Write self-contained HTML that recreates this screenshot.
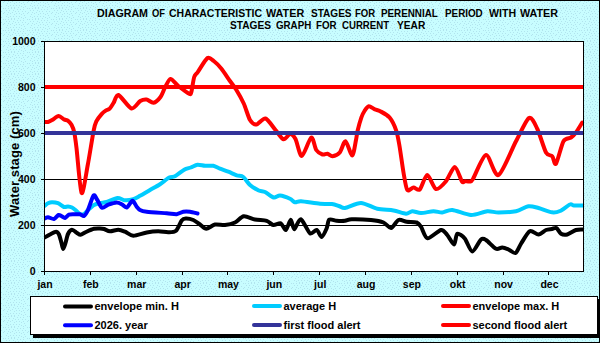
<!DOCTYPE html>
<html><head><meta charset="utf-8"><style>
html,body{margin:0;padding:0;}
body{width:600px;height:343px;overflow:hidden;position:relative;background:#c6fafd;font-family:"Liberation Sans",sans-serif;}
#frame{position:absolute;left:0;top:0;width:598px;height:341px;border:1px solid #000;background:#c6fafd;}
svg{position:absolute;left:0;top:0;}
.tw{position:absolute;font-weight:bold;font-size:10.4px;line-height:12px;white-space:nowrap;color:#000;transform-origin:0 0;}
.m{position:absolute;top:278px;width:40px;text-align:center;font-weight:bold;font-size:10.5px;line-height:13px;color:#000;}
.yl{position:absolute;left:0;width:35.5px;text-align:right;font-weight:bold;font-size:10.5px;line-height:13px;color:#000;}
#ytitle{position:absolute;left:8px;top:217px;letter-spacing:0.1px;transform-origin:0 0;transform:rotate(-90deg);font-weight:bold;font-size:13px;line-height:13px;white-space:nowrap;}
.lg{position:absolute;font-weight:bold;font-size:11px;line-height:13px;white-space:nowrap;}
</style></head><body>
<div id="frame"></div>
<svg width="600" height="343" viewBox="0 0 600 343">
<defs><pattern id="dots" x="100" y="30" width="24" height="11" patternUnits="userSpaceOnUse"><rect width="24" height="11" fill="#c8fdff"/><g fill="#b2e4ee"><rect x="1" y="0" width="1" height="1"/><rect x="4" y="0" width="1" height="1"/><rect x="7" y="0" width="1" height="1"/><rect x="10" y="0" width="1" height="1"/><rect x="23" y="0" width="1" height="1"/><rect x="13" y="1" width="1" height="1"/><rect x="16" y="1" width="1" height="1"/><rect x="19" y="1" width="1" height="1"/><rect x="2" y="2" width="1" height="1"/><rect x="5" y="2" width="1" height="1"/><rect x="9" y="2" width="1" height="1"/><rect x="11" y="3" width="1" height="1"/><rect x="14" y="3" width="1" height="1"/><rect x="18" y="3" width="1" height="1"/><rect x="21" y="3" width="1" height="1"/><rect x="0" y="4" width="1" height="1"/><rect x="4" y="4" width="1" height="1"/><rect x="8" y="4" width="1" height="1"/><rect x="6" y="5" width="1" height="1"/><rect x="12" y="5" width="1" height="1"/><rect x="15" y="5" width="1" height="1"/><rect x="19" y="5" width="1" height="1"/><rect x="23" y="5" width="1" height="1"/><rect x="3" y="6" width="1" height="1"/><rect x="10" y="6" width="1" height="1"/><rect x="17" y="6" width="1" height="1"/><rect x="20" y="7" width="1" height="1"/><rect x="2" y="8" width="1" height="1"/><rect x="6" y="8" width="1" height="1"/><rect x="9" y="8" width="1" height="1"/><rect x="12" y="8" width="1" height="1"/><rect x="15" y="8" width="1" height="1"/><rect x="4" y="9" width="1" height="1"/><rect x="17" y="9" width="1" height="1"/><rect x="21" y="9" width="1" height="1"/><rect x="7" y="10" width="1" height="1"/><rect x="10" y="10" width="1" height="1"/><rect x="14" y="10" width="1" height="1"/><rect x="19" y="10" width="1" height="1"/></g></pattern></defs>
<rect x="1" y="1" width="598" height="341" fill="url(#dots)"/>
<rect x="44.5" y="41.5" width="539" height="230" fill="#fff" stroke="#000" stroke-width="1"/>
<rect x="45" y="87" width="538" height="1" fill="#000"/><rect x="45" y="133" width="538" height="1" fill="#000"/><rect x="45" y="179" width="538" height="1" fill="#000"/><rect x="45" y="225" width="538" height="1" fill="#000"/>
<rect x="41" y="41" width="3" height="1" fill="#000"/><rect x="41" y="87" width="3" height="1" fill="#000"/><rect x="41" y="133" width="3" height="1" fill="#000"/><rect x="41" y="179" width="3" height="1" fill="#000"/><rect x="41" y="225" width="3" height="1" fill="#000"/><rect x="41" y="271" width="3" height="1" fill="#000"/>
<rect x="44" y="272" width="1" height="3" fill="#000"/><rect x="90" y="272" width="1" height="3" fill="#000"/><rect x="136" y="272" width="1" height="3" fill="#000"/><rect x="182" y="272" width="1" height="3" fill="#000"/><rect x="227" y="272" width="1" height="3" fill="#000"/><rect x="273" y="272" width="1" height="3" fill="#000"/><rect x="319" y="272" width="1" height="3" fill="#000"/><rect x="365" y="272" width="1" height="3" fill="#000"/><rect x="411" y="272" width="1" height="3" fill="#000"/><rect x="457" y="272" width="1" height="3" fill="#000"/><rect x="503" y="272" width="1" height="3" fill="#000"/><rect x="548" y="272" width="1" height="3" fill="#000"/>
<clipPath id="pc"><rect x="45" y="42" width="538" height="229"/></clipPath>
<g clip-path="url(#pc)">
<path d="M44.50 237.50 C45.23 237.10 48.47 235.26 50.00 234.50 C51.53 233.74 54.80 231.80 56.00 231.80 C57.20 231.80 58.27 233.01 59.00 234.50 C59.73 235.99 60.94 241.07 61.50 243.00 C62.06 244.93 62.67 249.00 63.20 249.00 C63.73 249.00 64.86 245.00 65.50 243.00 C66.14 241.00 67.13 235.76 68.00 234.00 C68.87 232.24 70.80 229.93 72.00 229.80 C73.20 229.67 75.87 232.33 77.00 233.00 C78.13 233.67 79.30 234.93 80.50 234.80 C81.70 234.67 84.20 232.80 86.00 232.00 C87.80 231.20 92.13 229.27 94.00 228.80 C95.87 228.33 98.67 228.47 100.00 228.50 C101.33 228.53 102.67 228.63 104.00 229.00 C105.33 229.37 108.09 231.21 110.00 231.30 C111.91 231.39 116.30 229.65 118.30 229.70 C120.30 229.75 123.00 230.89 125.00 231.70 C127.00 232.51 130.41 235.69 133.30 235.80 C136.19 235.91 143.37 233.10 146.70 232.50 C150.03 231.90 155.42 231.33 158.30 231.30 C161.18 231.27 165.94 232.37 168.30 232.30 C170.66 232.23 174.21 232.37 176.00 230.80 C177.79 229.23 180.39 222.14 181.70 220.50 C183.01 218.86 184.25 218.57 185.80 218.50 C187.35 218.43 191.41 219.20 193.30 220.00 C195.19 220.80 198.27 223.33 200.00 224.50 C201.73 225.67 204.25 228.75 206.25 228.75 C208.25 228.75 212.50 225.00 215.00 224.50 C217.50 224.00 222.33 225.27 225.00 225.00 C227.67 224.73 232.50 223.67 235.00 222.50 C237.50 221.33 241.08 216.65 243.75 216.25 C246.42 215.85 251.94 218.89 255.00 219.50 C258.06 220.11 264.26 220.07 266.70 220.80 C269.14 221.53 271.42 224.67 273.30 225.00 C275.18 225.33 279.13 222.63 280.80 223.30 C282.47 223.97 284.47 230.48 285.80 230.00 C287.13 229.52 289.68 219.81 290.80 219.70 C291.92 219.59 292.87 229.27 294.20 229.20 C295.53 229.13 298.69 218.65 300.80 219.20 C302.91 219.75 307.88 231.86 310.00 233.30 C312.12 234.74 315.14 229.51 316.70 230.00 C318.26 230.49 320.37 237.23 321.70 237.00 C323.03 236.77 325.70 230.61 326.70 228.30 C327.70 225.99 327.87 220.70 329.20 219.70 C330.53 218.70 334.59 220.65 336.70 220.80 C338.81 220.95 343.00 221.01 345.00 220.80 C347.00 220.59 348.23 219.31 351.70 219.20 C355.17 219.09 366.76 219.56 371.00 220.00 C375.24 220.44 380.83 221.43 383.50 222.50 C386.17 223.57 389.00 228.33 391.00 228.00 C393.00 227.67 396.41 220.84 398.50 220.00 C400.59 219.16 404.27 221.37 406.70 221.70 C409.13 222.03 414.79 221.83 416.70 222.50 C418.61 223.17 419.56 224.59 421.00 226.70 C422.44 228.81 424.83 237.86 427.50 238.30 C430.17 238.74 438.37 230.44 441.00 230.00 C443.63 229.56 445.52 233.07 447.25 235.00 C448.98 236.93 452.67 244.67 454.00 244.50 C455.33 244.33 455.82 234.55 457.25 233.75 C458.68 232.95 462.75 236.13 464.75 238.50 C466.75 240.87 470.08 251.37 472.25 251.50 C474.42 251.63 479.17 241.03 481.00 239.50 C482.83 237.97 484.00 238.77 486.00 240.00 C488.00 241.23 493.83 247.75 496.00 248.75 C498.17 249.75 500.58 247.40 502.25 247.50 C503.92 247.60 506.73 248.77 508.50 249.50 C510.27 250.23 513.83 253.77 515.50 253.00 C517.17 252.23 519.10 246.65 521.00 243.75 C522.90 240.85 527.42 232.48 529.75 231.25 C532.08 230.02 536.33 234.67 538.50 234.50 C540.67 234.33 544.20 230.73 546.00 230.00 C547.80 229.27 550.61 229.27 552.00 229.00 C553.39 228.73 555.20 227.36 556.40 228.00 C557.60 228.64 559.55 232.93 561.00 233.80 C562.45 234.67 565.25 235.01 567.25 234.50 C569.25 233.99 574.00 230.67 576.00 230.00 C578.00 229.33 581.42 229.57 582.25 229.50" fill="none" stroke="#000" stroke-width="4" stroke-linejoin="round" stroke-linecap="round"/>
<path d="M44.50 206.00 C44.97 205.64 47.00 203.81 48.00 203.30 C49.00 202.79 50.67 202.21 52.00 202.20 C53.33 202.19 56.40 202.56 58.00 203.20 C59.60 203.84 62.67 206.56 64.00 207.00 C65.33 207.44 66.93 206.43 68.00 206.50 C69.07 206.57 70.93 206.97 72.00 207.50 C73.07 208.03 74.93 209.63 76.00 210.50 C77.07 211.37 78.93 213.53 80.00 214.00 C81.07 214.47 82.93 214.53 84.00 214.00 C85.07 213.47 86.67 211.20 88.00 210.00 C89.33 208.80 92.40 205.93 94.00 205.00 C95.60 204.07 98.31 203.40 100.00 203.00 C101.69 202.60 104.37 202.67 106.70 202.00 C109.03 201.33 115.06 198.23 117.50 198.00 C119.94 197.77 122.89 200.14 125.00 200.30 C127.11 200.46 131.30 199.80 133.30 199.20 C135.30 198.60 137.77 197.03 140.00 195.80 C142.23 194.57 147.33 191.55 150.00 190.00 C152.67 188.45 157.44 185.87 160.00 184.20 C162.56 182.53 167.20 178.55 169.20 177.50 C171.20 176.45 173.00 177.34 175.00 176.30 C177.00 175.26 182.09 170.87 184.20 169.70 C186.31 168.53 189.03 168.17 190.80 167.50 C192.57 166.83 195.61 164.93 197.50 164.70 C199.39 164.47 202.89 165.65 205.00 165.80 C207.11 165.95 211.30 165.41 213.30 165.80 C215.30 166.19 218.00 167.91 220.00 168.70 C222.00 169.49 226.07 170.82 228.30 171.70 C230.53 172.58 234.70 174.59 236.70 175.30 C238.70 176.01 241.53 175.71 243.30 177.00 C245.07 178.29 247.94 183.20 250.00 185.00 C252.06 186.80 256.75 189.57 258.75 190.50 C260.75 191.43 263.00 191.07 265.00 192.00 C267.00 192.93 271.75 197.03 273.75 197.50 C275.75 197.97 277.83 195.33 280.00 195.50 C282.17 195.67 288.00 197.84 290.00 198.75 C292.00 199.66 293.53 201.97 295.00 202.30 C296.47 202.63 297.67 201.06 301.00 201.25 C304.33 201.44 315.87 203.38 320.00 203.75 C324.13 204.12 329.40 203.67 332.00 204.00 C334.60 204.33 337.77 205.72 339.50 206.25 C341.23 206.78 342.13 208.43 345.00 208.00 C347.87 207.57 356.70 202.90 361.00 203.00 C365.30 203.10 372.92 207.75 377.25 208.75 C381.58 209.75 389.67 209.83 393.50 210.50 C397.33 211.17 403.50 213.65 406.00 213.75 C408.50 213.85 410.25 211.35 412.25 211.25 C414.25 211.15 418.17 213.00 421.00 213.00 C423.83 213.00 430.67 211.32 433.50 211.25 C436.33 211.18 439.75 212.67 442.25 212.50 C444.75 212.33 448.42 209.67 452.25 210.00 C456.08 210.33 466.33 214.83 471.00 215.00 C475.67 215.17 483.58 211.58 487.25 211.25 C490.92 210.92 494.67 212.50 498.50 212.50 C502.33 212.50 512.00 212.08 516.00 211.25 C520.00 210.42 525.50 206.68 528.50 206.25 C531.50 205.82 535.37 207.19 538.50 208.00 C541.63 208.81 549.13 211.90 552.00 212.30 C554.87 212.70 557.60 212.04 560.00 211.00 C562.40 209.96 568.13 205.23 570.00 204.50 C571.87 203.77 572.33 205.37 574.00 205.50 C575.67 205.63 581.37 205.50 582.50 205.50" fill="none" stroke="#00ccff" stroke-width="4" stroke-linejoin="round" stroke-linecap="round"/>
<path d="M44.00 122.00 C44.53 122.00 46.93 122.25 48.00 122.00 C49.07 121.75 50.57 120.89 52.00 120.10 C53.43 119.31 57.09 116.19 58.70 116.10 C60.31 116.01 62.85 118.77 64.10 119.40 C65.35 120.03 67.11 120.08 68.10 120.80 C69.09 121.52 70.69 123.28 71.50 124.80 C72.31 126.32 73.53 129.11 74.20 132.20 C74.87 135.29 75.51 139.89 76.50 148.00 C77.49 156.11 80.10 190.73 81.60 193.00 C83.10 195.27 86.15 173.29 87.75 165.00 C89.35 156.71 92.46 136.61 93.60 130.80 C94.74 124.99 95.23 123.63 96.30 121.40 C97.37 119.17 100.35 115.53 101.60 114.10 C102.85 112.67 104.62 111.42 105.70 110.70 C106.78 109.98 108.63 109.77 109.70 108.70 C110.77 107.63 112.53 104.53 113.70 102.70 C114.87 100.87 116.13 94.23 118.50 95.00 C120.87 95.77 128.60 107.70 131.50 108.50 C134.40 109.30 138.25 102.20 140.25 101.00 C142.25 99.80 144.73 99.26 146.50 99.50 C148.27 99.74 151.63 103.13 153.50 102.80 C155.37 102.47 158.97 99.04 160.50 97.00 C162.03 94.96 163.67 89.90 165.00 87.50 C166.33 85.10 168.77 79.24 170.50 79.00 C172.23 78.76 175.52 83.74 178.00 85.70 C180.48 87.66 187.33 92.83 189.10 93.70 C190.87 94.57 190.62 94.43 191.30 92.20 C191.98 89.97 193.32 79.72 194.20 77.00 C195.08 74.28 196.13 74.33 197.90 71.80 C199.67 69.27 205.39 59.44 207.50 58.00 C209.61 56.56 211.92 59.60 213.75 61.00 C215.58 62.40 219.08 65.83 221.25 68.50 C223.42 71.17 228.00 78.17 230.00 81.00 C232.00 83.83 234.42 86.75 236.25 89.75 C238.08 92.75 241.92 99.47 243.75 103.50 C245.58 107.53 248.30 117.20 250.00 120.00 C251.70 122.80 254.43 124.70 256.50 124.50 C258.57 124.30 262.97 117.77 265.50 118.50 C268.03 119.23 273.10 127.23 275.50 130.00 C277.90 132.77 281.57 138.77 283.50 139.30 C285.43 139.83 288.40 134.04 290.00 134.00 C291.60 133.96 293.93 136.07 295.50 139.00 C297.07 141.93 299.70 156.20 301.80 156.00 C303.90 155.80 309.32 138.30 311.25 137.50 C313.18 136.70 314.75 147.73 316.25 150.00 C317.75 152.27 321.00 154.00 322.50 154.50 C324.00 155.00 326.17 153.52 327.50 153.75 C328.83 153.98 330.87 156.42 332.50 156.25 C334.13 156.08 338.02 154.50 339.75 152.50 C341.48 150.50 343.83 140.85 345.50 141.25 C347.17 141.65 350.85 155.67 352.25 155.50 C353.65 155.33 355.29 143.29 356.00 140.00 C356.71 136.71 356.88 133.81 357.60 130.80 C358.32 127.79 360.48 120.04 361.40 117.40 C362.32 114.76 363.51 112.48 364.50 111.00 C365.49 109.52 367.41 106.51 368.80 106.30 C370.19 106.09 373.38 108.75 374.90 109.40 C376.42 110.05 378.24 110.11 380.20 111.20 C382.16 112.29 387.45 114.99 389.60 117.60 C391.75 120.21 394.98 127.01 396.30 130.80 C397.62 134.59 398.54 140.44 399.50 146.00 C400.46 151.56 402.47 166.63 403.50 172.50 C404.53 178.37 405.92 188.00 407.25 190.00 C408.58 192.00 411.83 187.57 413.50 187.50 C415.17 187.43 417.92 191.17 419.75 189.50 C421.58 187.83 425.08 175.07 427.25 175.00 C429.42 174.93 433.50 188.17 436.00 189.00 C438.50 189.83 443.50 184.18 446.00 181.25 C448.50 178.32 452.62 166.97 454.75 167.00 C456.88 167.03 460.63 179.61 462.00 181.50 C463.37 183.39 463.93 181.20 465.00 181.20 C466.07 181.20 468.93 181.79 470.00 181.50 C471.07 181.21 470.87 182.53 473.00 179.00 C475.13 175.47 482.60 155.53 486.00 155.00 C489.40 154.47 494.50 176.83 498.50 175.00 C502.50 173.17 511.93 148.85 516.00 141.25 C520.07 133.65 526.17 119.67 529.00 118.00 C531.83 116.33 534.98 124.15 537.25 128.75 C539.52 133.35 544.00 148.83 546.00 152.50 C548.00 156.17 550.92 154.75 552.25 156.25 C553.58 157.75 554.50 165.75 556.00 163.75 C557.50 161.75 561.50 144.75 563.50 141.25 C565.50 137.75 569.33 138.67 571.00 137.50 C572.67 136.33 574.50 134.50 576.00 132.50 C577.50 130.50 581.42 123.83 582.25 122.50" fill="none" stroke="#ff0000" stroke-width="4" stroke-linejoin="round" stroke-linecap="round"/>
<path d="M44.50 218.50 C44.97 218.33 46.73 217.13 48.00 217.20 C49.27 217.27 52.60 219.29 54.00 219.00 C55.40 218.71 57.47 215.37 58.50 215.00 C59.53 214.63 60.83 215.80 61.70 216.20 C62.57 216.60 64.03 218.20 65.00 218.00 C65.97 217.80 67.80 215.19 69.00 214.70 C70.20 214.21 72.53 214.35 74.00 214.30 C75.47 214.25 78.67 214.07 80.00 214.30 C81.33 214.53 82.93 216.57 84.00 216.00 C85.07 215.43 86.73 212.73 88.00 210.00 C89.27 207.27 92.30 196.90 93.50 195.50 C94.70 194.10 95.87 197.87 97.00 199.50 C98.13 201.13 100.49 207.01 102.00 207.70 C103.51 208.39 106.34 205.39 108.30 204.70 C110.26 204.01 114.91 202.57 116.70 202.50 C118.49 202.43 120.37 203.53 121.70 204.20 C123.03 204.87 125.26 207.95 126.70 207.50 C128.14 207.05 131.17 200.91 132.50 200.80 C133.83 200.69 135.70 205.47 136.70 206.70 C137.70 207.93 138.67 209.33 140.00 210.00 C141.33 210.67 143.14 211.26 146.70 211.70 C150.26 212.14 162.70 212.97 166.70 213.30 C170.70 213.63 174.49 214.41 176.70 214.20 C178.91 213.99 181.53 212.03 183.30 211.70 C185.07 211.37 188.11 211.46 190.00 211.70 C191.89 211.94 196.50 213.26 197.50 213.50" fill="none" stroke="#0000ff" stroke-width="4" stroke-linejoin="round" stroke-linecap="round"/>
<rect x="45" y="131" width="538" height="4" fill="#333399"/>
<rect x="45" y="85" width="538" height="4" fill="#ff0000"/>
</g>
<rect x="33" y="299" width="567" height="39" fill="#000"/>
<rect x="30.5" y="296.5" width="567" height="38" fill="#fff" stroke="#000" stroke-width="1"/>
<g stroke-width="4" stroke-linecap="round">
<line x1="65" y1="306.5" x2="91" y2="306.5" stroke="#000"/>
<line x1="65" y1="325.2" x2="91" y2="325.2" stroke="#0000ff"/>
<line x1="254" y1="305.9" x2="280" y2="305.9" stroke="#00ccff"/>
<line x1="254" y1="325" x2="280" y2="325" stroke="#333399"/>
<line x1="443" y1="306" x2="469" y2="306" stroke="#ff0000"/>
<line x1="443" y1="325" x2="469" y2="325" stroke="#ff0000"/>
</g>
</svg>
<span class="tw" style="left:96.97px;top:8px;transform:scaleX(1.027)">DIAGRAM</span><span class="tw" style="left:151.70px;top:8px;transform:scaleX(0.900)">OF</span><span class="tw" style="left:169.30px;top:8px;transform:scaleX(1.008)">CHARACTERISTIC</span><span class="tw" style="left:266.30px;top:8px;transform:scaleX(1.039)">WATER</span><span class="tw" style="left:310.70px;top:8px;transform:scaleX(0.967)">STAGES</span><span class="tw" style="left:355.08px;top:8px;transform:scaleX(0.919)">FOR</span><span class="tw" style="left:381.25px;top:8px;transform:scaleX(0.946)">PERENNIAL</span><span class="tw" style="left:445.35px;top:8px;transform:scaleX(0.947)">PERIOD</span><span class="tw" style="left:489.00px;top:8px;transform:scaleX(1.019)">WITH</span><span class="tw" style="left:519.50px;top:8px;transform:scaleX(1.036)">WATER</span><span class="tw" style="left:229.70px;top:20px;transform:scaleX(0.976)">STAGES</span><span class="tw" style="left:276.30px;top:20px;transform:scaleX(0.938)">GRAPH</span><span class="tw" style="left:316.06px;top:20px;transform:scaleX(0.938)">FOR</span><span class="tw" style="left:342.40px;top:20px;transform:scaleX(0.927)">CURRENT</span><span class="tw" style="left:397.30px;top:20px;transform:scaleX(0.982)">YEAR</span>
<div class="yl" style="top:35px">1000</div><div class="yl" style="top:81px">800</div><div class="yl" style="top:127px">600</div><div class="yl" style="top:173px">400</div><div class="yl" style="top:219px">200</div><div class="yl" style="top:265px">0</div>
<div class="m" style="left:25.0px">jan</div><div class="m" style="left:70.9px">feb</div><div class="m" style="left:116.7px">mar</div><div class="m" style="left:162.6px">apr</div><div class="m" style="left:208.4px">may</div><div class="m" style="left:254.3px">jun</div><div class="m" style="left:300.2px">jul</div><div class="m" style="left:346.0px">aug</div><div class="m" style="left:391.9px">sep</div><div class="m" style="left:437.7px">okt</div><div class="m" style="left:483.6px">nov</div><div class="m" style="left:529.5px">dec</div>
<div id="ytitle">Water stage (cm)</div>
<div class="lg" style="left:94.5px;top:300px">envelope min. H</div>
<div class="lg" style="left:94.5px;top:319px">2026. year</div>
<div class="lg" style="left:283.5px;top:300px">average H</div>
<div class="lg" style="left:283.5px;top:319px">first flood alert</div>
<div class="lg" style="left:472.5px;top:300px">envelope max. H</div>
<div class="lg" style="left:472.5px;top:319px">second flood alert</div>
</body></html>
